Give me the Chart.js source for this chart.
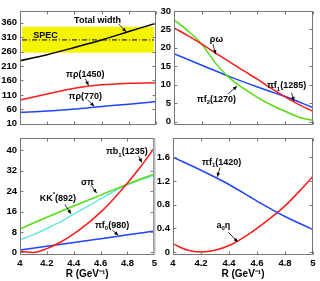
<!DOCTYPE html>
<html>
<head>
<meta charset="utf-8">
<script src="https://cdn.jsdelivr.net/npm/chart.js@4"></script>
<style>
html, body { margin: 0; padding: 0; background: #fff; }
#wrap { position: relative; width: 320px; height: 281px; }
canvas { position: absolute; }
</style>
</head>
<body>
<div id="wrap">
  <canvas id="c1" style="left:0;top:0" width="160" height="134"></canvas>
  <canvas id="c2" style="left:150px;top:0" width="170" height="134"></canvas>
  <canvas id="c3" style="left:0;top:129px" width="160" height="152"></canvas>
  <canvas id="c4" style="left:150px;top:129px" width="170" height="152"></canvas>
</div>
<script>
var FONT = '"Liberation Sans", Arial, sans-serif';

// R values (GeV^-1)
var rCoarse = [4, 4.2, 4.4, 4.6, 4.8, 5];
var rFine = [4, 4.1, 4.2, 4.3, 4.4, 4.5, 4.6, 4.7, 4.8, 4.9, 5];
var xTicks = [4, 4.2, 4.4, 4.6, 4.8, 5];

// top left panel
var yTicksA = [10, 60, 110, 160, 210, 260, 310, 360];
var totalWidth = [228, 249, 274, 300, 329, 358];
var piRho1450 = [92, 113, 133, 145, 150, 152];
var piRho770 = [50, 54, 61, 70, 78, 87];
var specValue = 300, specLow = 256, specHigh = 346;

// top right panel
var yTicksB = [0, 5, 10, 15, 20, 25, 30];
var rhoOmega = [25.4, 23.3, 21.0, 18.6, 16.2, 13.8, 11.5, 9.0, 6.7, 4.6, 2.8];
var piF2_1270 = [27.6, 24.6, 21.0, 15.8, 11.8, 9.0, 6.6, 4.5, 2.8, 1.2, 0.3];
var piF1_1285 = [18.4, 15.3, 12.2, 9.4, 6.8, 3.8];

// bottom left panel
var yTicksC = [0, 8, 16, 24, 32, 40];
var piB1_1235 = [0.5, 0, 1.5, 4, 7.3, 11.2, 15.8, 21.2, 27.2, 33.8, 41];
var sigmaPi = [9.2, 13.8, 18.2, 22.5, 26.8, 30.8];
var kkStar892 = [5, 7, 9.4, 12, 15, 18, 21, 24, 26.5, 28.6, 30.2];
var piF0_980 = [1.0, 2.4, 3.9, 5.4, 6.9, 8.4];

// bottom right panel
var yTicksD = [0, 0.4, 0.8, 1.2, 1.6];
var piF1_1420 = [1.6, 1.38, 1.14, 0.86, 0.6, 0.38];
var a0Eta = [0.14, 0.035, 0, 0.03, 0.11, 0.24, 0.4, 0.58, 0.78, 1.02, 1.28];

// labels: text position and arrow (tail -> head), in data units
var notesA = [
  { t: 'Total width', x: 4.57, y: 366, ar: [4.724, 356, 4.78, 328] },
  { t: 'SPEC', x: 4.187, y: 314 },
  { t: 'πρ(1450)', x: 4.48, y: 180, ar: [4.48, 166, 4.504, 143] },
  { t: 'πρ(770)', x: 4.48, y: 105, ar: [4.497, 93, 4.546, 71] }
];
var notesB = [
  { t: 'ρω', x: 4.305, y: 22.3, ar: [4.28, 21, 4.30, 18.3] },
  { t: 'πf_1(1285)', x: 4.81, y: 9.7, ar: [4.846, 7.8, 4.863, 5.6] },
  { t: 'πf_2(1270)', x: 4.305, y: 6.0, ar: [4.388, 7.5, 4.453, 9.6] }
];
var notesC = [
  { t: 'πb_1(1235)', x: 4.795, y: 39.4, ar: [4.883, 37.8, 4.907, 35.3] },
  { t: 'σπ', x: 4.502, y: 27.6, ar: [4.529, 26.4, 4.57, 23.3] },
  { t: 'KK^*(892)', x: 4.282, y: 21.2, ar: [4.333, 18.8, 4.38, 15.2] },
  { t: 'πf_0(980)', x: 4.685, y: 10.5, ar: [4.687, 8.8, 4.731, 6.7] }
];
var notesD = [
  { t: 'πf_1(1420)', x: 4.348, y: 1.513, ar: [4.336, 1.43, 4.316, 1.27] },
  { t: 'a_0η', x: 4.36, y: 0.446, ar: [4.395, 0.335, 4.462, 0.17] }
];

Chart.defaults.font.family = FONT;
Chart.defaults.font.weight = 'bold';
Chart.defaults.font.size = 9;
Chart.defaults.color = '#000';

function series(xs, ys, color) {
  return {
    data: xs.map(function (x, i) { return { x: x, y: ys[i] }; }),
    borderColor: color,
    borderWidth: 1.5,
    pointRadius: 0,
    fill: false,
    cubicInterpolationMode: 'monotone'
  };
}

function richParts(s) {
  var parts = [], i = 0;
  while (i < s.length) {
    var ch = s[i];
    if ((ch === '_' || ch === '^') && i + 1 < s.length) {
      parts.push({ t: s[i + 1], k: ch });
      i += 2;
    } else {
      var last = parts[parts.length - 1];
      if (last && last.k === '') last.t += ch; else parts.push({ t: ch, k: '' });
      i++;
    }
  }
  return parts;
}

function drawRich(ctx, s, cx, cy, size) {
  var parts = richParts(s), w = 0;
  parts.forEach(function (p) {
    p.sz = p.k ? Math.round(size * 0.72) : size;
    ctx.font = 'bold ' + p.sz + 'px ' + FONT;
    p.w = ctx.measureText(p.t).width;
    w += p.w;
  });
  var x = cx - w / 2;
  ctx.textAlign = 'left';
  ctx.textBaseline = 'middle';
  parts.forEach(function (p) {
    ctx.font = 'bold ' + p.sz + 'px ' + FONT;
    var dy = p.k === '_' ? size * 0.35 : (p.k === '^' ? -size * 0.4 : 0);
    ctx.fillText(p.t, x, cy + dy);
    x += p.w;
  });
}

function arrow(ctx, x0, y0, x1, y1) {
  ctx.beginPath();
  ctx.moveTo(x0, y0);
  ctx.lineTo(x1, y1);
  ctx.stroke();
  var ang = Math.atan2(y1 - y0, x1 - x0), L = 4, W = 1.8;
  var bx = x1 - L * Math.cos(ang), by = y1 - L * Math.sin(ang);
  ctx.beginPath();
  ctx.moveTo(x1, y1);
  ctx.lineTo(bx + W * Math.sin(ang), by - W * Math.cos(ang));
  ctx.lineTo(bx - W * Math.sin(ang), by + W * Math.cos(ang));
  ctx.closePath();
  ctx.fill();
}

var decor = {
  id: 'decor',
  afterDatasetsDraw: function (chart, args, opts) {
    var ctx = chart.ctx, a = chart.chartArea, sx = chart.scales.x, sy = chart.scales.y;
    var L = Math.round(a.left) + 0.5, R = Math.round(a.right) - 0.5;
    var T = Math.round(a.top) + 0.5, B = Math.round(a.bottom) - 0.5;
    ctx.save();
    ctx.strokeStyle = '#777';
    ctx.lineWidth = 1;
    ctx.strokeRect(L, T, R - L, B - T);
    ctx.beginPath();
    opts.xt.forEach(function (v) {
      var p = Math.round(sx.getPixelForValue(v)) + 0.5;
      ctx.moveTo(p, B); ctx.lineTo(p, B - 3);
      ctx.moveTo(p, T); ctx.lineTo(p, T + 3);
    });
    opts.yt.forEach(function (v) {
      var p = Math.round(sy.getPixelForValue(v)) + 0.5;
      ctx.moveTo(L, p); ctx.lineTo(L + 3, p);
      ctx.moveTo(R, p); ctx.lineTo(R - 3, p);
    });
    ctx.stroke();
    if (opts.edge) {
      ctx.strokeStyle = '#bbb';
      ctx.lineWidth = 2;
      ctx.beginPath();
      ctx.moveTo(R + 1, T); ctx.lineTo(R + 1, B);
      ctx.stroke();
    }
    ctx.fillStyle = '#000';
    ctx.strokeStyle = '#000';
    ctx.lineWidth = 0.8;
    opts.notes.forEach(function (n) {
      drawRich(ctx, n.t, sx.getPixelForValue(n.x), sy.getPixelForValue(n.y), 9);
      if (n.ar) {
        arrow(ctx, sx.getPixelForValue(n.ar[0]), sy.getPixelForValue(n.ar[1]),
          sx.getPixelForValue(n.ar[2]), sy.getPixelForValue(n.ar[3]));
      }
    });
    ctx.restore();
  }
};

function makePanel(id, p) {
  return new Chart(document.getElementById(id), {
    type: 'line',
    data: { datasets: p.datasets },
    plugins: [decor],
    options: {
      responsive: false,
      animation: false,
      devicePixelRatio: 1,
      layout: { padding: p.padding },
      plugins: {
        legend: { display: false },
        tooltip: { enabled: false },
        decor: { notes: p.notes, xt: xTicks, yt: p.yt, edge: p.edge }
      },
      scales: {
        x: {
          type: 'linear', min: 4, max: 5,
          display: p.showX,
          grid: { display: false, drawTicks: false },
          border: { display: false },
          afterBuildTicks: function (s) { s.ticks = xTicks.map(function (v) { return { value: v }; }); },
          afterFit: function (s) { if (p.showX) s.height = 26; },
          ticks: { padding: 3, autoSkip: false, maxRotation: 0, font: { size: 9.5 },
            callback: function (v) { return String(v); } },
          title: { display: true, text: 'R (GeV⁻¹)', font: { size: 10, weight: 'bold' }, padding: { top: 0, bottom: 1 } }
        },
        y: {
          type: 'linear', min: p.ymin, max: p.ymax,
          grid: { display: false, drawTicks: false },
          border: { display: false },
          afterBuildTicks: function (s) { s.ticks = p.yt.map(function (v) { return { value: v }; }); },
          afterFit: function (s) { s.width = p.yWidth; },
          ticks: { padding: 3, autoSkip: false, font: { size: 9.5 },
            callback: function (v) { return String(v); } }
        }
      }
    }
  });
}

var specBand = {
  data: [{ x: 4.015, y: specHigh }, { x: 4.985, y: specHigh }],
  borderWidth: 0, pointRadius: 0,
  backgroundColor: '#f4f400',
  fill: { value: specLow }
};
var specLine = {
  data: [{ x: 4.015, y: specValue }, { x: 4.985, y: specValue }],
  borderColor: '#000', borderWidth: 1, pointRadius: 0, fill: false,
  borderDash: [5, 2, 1, 2]
};

makePanel('c1', {
  ymin: 5, ymax: 400, yt: yTicksA, yWidth: 20, showX: false,
  padding: { top: 11, right: 4, bottom: 6, left: 0 },
  notes: notesA,
  datasets: [
    series(rCoarse, totalWidth, '#000'),
    series(rCoarse, piRho1450, '#ff1a1a'),
    series(rCoarse, piRho770, '#1f44ff'),
    specLine,
    specBand
  ]
});

makePanel('c2', {
  ymin: -1, ymax: 30, yt: yTicksB, yWidth: 24, showX: false,
  padding: { top: 11, right: 7, bottom: 6, left: 0 },
  notes: notesB,
  datasets: [
    series(rFine, rhoOmega, '#ff1a1a'),
    series(rFine, piF2_1270, '#55dd11'),
    series(rCoarse, piF1_1285, '#1f44ff')
  ]
});

makePanel('c3', {
  ymin: -1, ymax: 45, yt: yTicksC, yWidth: 20, showX: true, edge: true,
  padding: { top: 6, right: 4, bottom: 0, left: 0 },
  notes: notesC,
  datasets: [
    series(rFine, piB1_1235, '#ff1a1a'),
    series(rCoarse, sigmaPi, '#55dd11'),
    series(rFine, kkStar892, '#66e8dd'),
    series(rCoarse, piF0_980, '#1f44ff')
  ]
});

makePanel('c4', {
  ymin: -0.05, ymax: 1.93, yt: yTicksD, yWidth: 23, showX: true,
  padding: { top: 6, right: 7, bottom: 0, left: 0 },
  notes: notesD,
  datasets: [
    series(rCoarse, piF1_1420, '#1f44ff'),
    series(rFine, a0Eta, '#ff1a1a')
  ]
});
</script>
</body>
</html>
